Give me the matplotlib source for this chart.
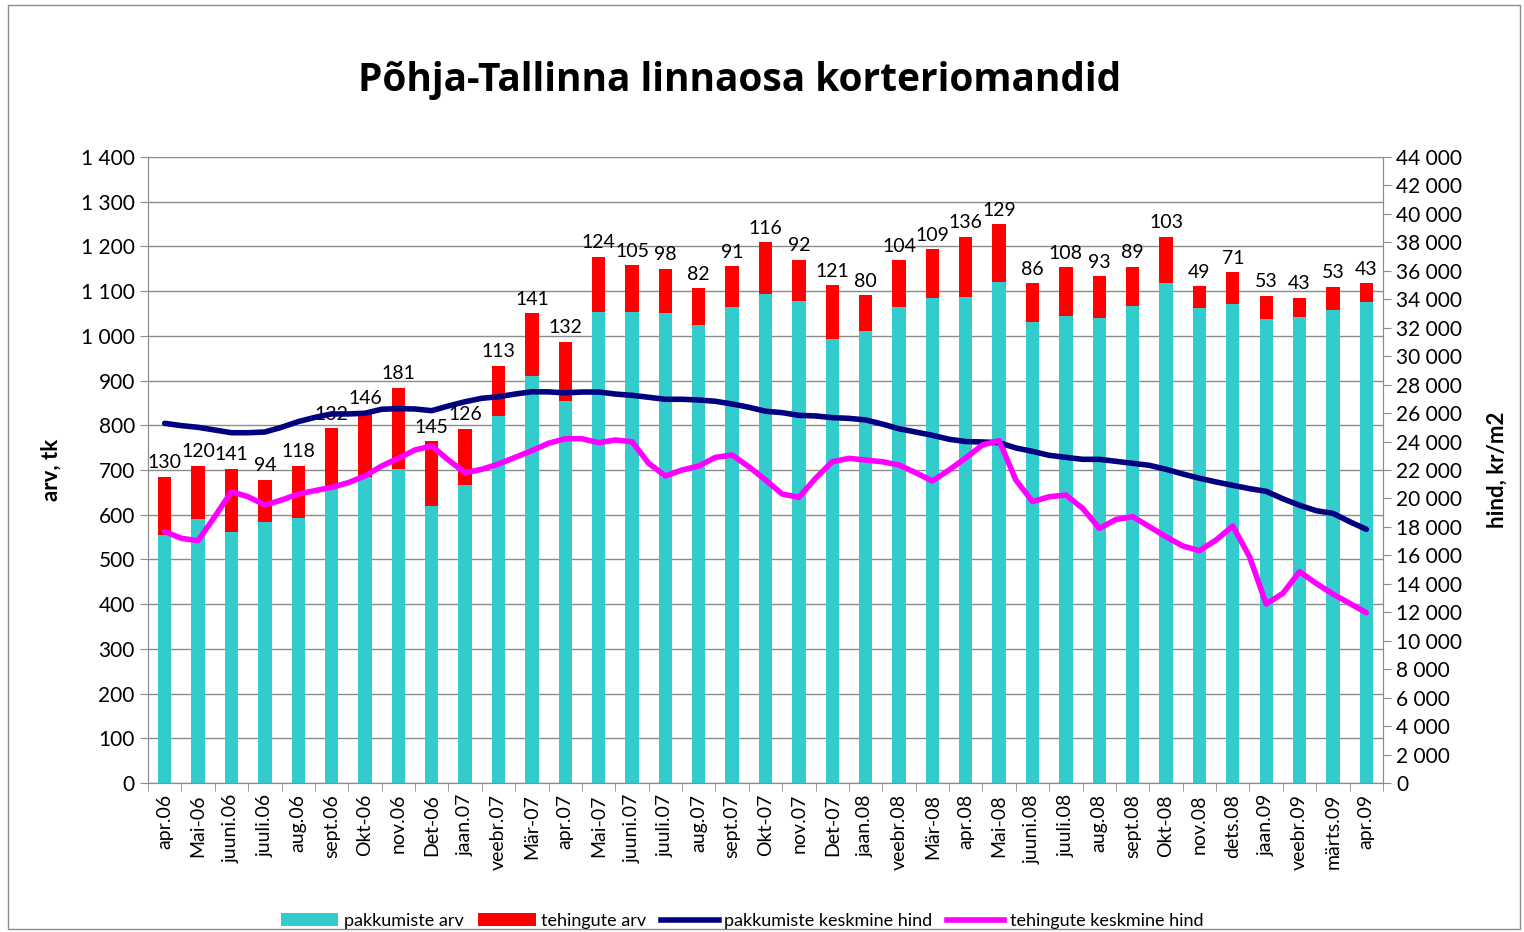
import matplotlib
matplotlib.use("Agg")
import matplotlib.pyplot as plt
import numpy as np
from matplotlib.patches import Patch, Rectangle
from matplotlib.lines import Line2D
from matplotlib.ticker import FuncFormatter

plt.rcParams['font.family'] = ['Lato', 'DejaVu Sans']

# ---------------------------------------------------------
# DATA
# ---------------------------------------------------------
months = ['apr.06', 'Mai-06', 'juuni.06', 'juuli.06', 'aug.06', 'sept.06', 'Okt-06',
          'nov.06', 'Det-06', 'jaan.07', 'veebr.07', 'Mär-07', 'apr.07', 'Mai-07',
          'juuni.07', 'juuli.07', 'aug.07', 'sept.07', 'Okt-07', 'nov.07', 'Det-07',
          'jaan.08', 'veebr.08', 'Mär-08', 'apr.08', 'Mai-08', 'juuni.08', 'juuli.08',
          'aug.08', 'sept.08', 'Okt-08', 'nov.08', 'dets.08', 'jaan.09', 'veebr.09',
          'märts.09', 'apr.09']

pakkumiste_arv = [555, 590, 562, 584, 592, 662, 684, 703, 619, 666, 820, 910, 855,
                  1053, 1053, 1052, 1024, 1065, 1094, 1078, 993, 1011, 1065, 1085,
                  1086, 1121, 1032, 1045, 1040, 1066, 1119, 1062, 1072, 1037, 1042,
                  1057, 1075]
tehingute_arv = [130, 120, 141, 94, 118, 132, 146, 181, 145, 126, 113, 141, 132,
                 124, 105, 98, 82, 91, 116, 92, 121, 80, 104, 109, 136, 129, 86,
                 108, 93, 89, 103, 49, 71, 53, 43, 53, 43]

# average prices, read twice per month (month index 0, 0.5, 1, ...)
pakkumiste_hind = [25280, 25120, 25000, 24810, 24620, 24620, 24670, 25000, 25400,
                   25700, 25940, 25940, 25990, 26270, 26310, 26290, 26170, 26500,
                   26800, 27040, 27150, 27340, 27500, 27490, 27420, 27480, 27480,
                   27340, 27250, 27110, 26970, 26970, 26920, 26830, 26640, 26410,
                   26130, 26030, 25840, 25800, 25680, 25630, 25520, 25230, 24900,
                   24670, 24440, 24160, 24000, 23970, 23920, 23550, 23310, 23030,
                   22890, 22750, 22750, 22610, 22470, 22330, 22050, 21720, 21420,
                   21160, 20920, 20690, 20500, 19980, 19520, 19140, 18950, 18370,
                   17830]
tehingute_hind = [17670, 17200, 17030, 18720, 20480, 20120, 19540, 19890, 20310,
                  20550, 20780, 21110, 21580, 22280, 22820, 23410, 23690, 22700,
                  21810, 22050, 22420, 22890, 23360, 23880, 24200, 24200, 23920,
                  24110, 23990, 22470, 21580, 22000, 22280, 22890, 23050, 22230,
                  21300, 20310, 20080, 21420, 22580, 22820, 22700, 22580, 22350,
                  21810, 21230, 22000, 22850, 23760, 24060, 21300, 19780, 20120,
                  20240, 19310, 17900, 18520, 18720, 18020, 17310, 16660, 16330,
                  17080, 18060, 15910, 12580, 13330, 14850, 14030, 13280, 12630,
                  11970]

CYAN = '#33CCCC'
RED = '#FF0000'
NAVY = '#000080'
MAGENTA = '#FF00FF'
GRID = '#8C8C8C'

x = np.arange(len(months))
xp = np.arange(len(pakkumiste_hind)) / 2.0
totals = np.array(pakkumiste_arv) + np.array(tehingute_arv)


def thousands(v, pos):
    return f'{int(v):,}'.replace(',', ' ')


fig = plt.figure(figsize=(15.24, 9.32), dpi=100)
ax = fig.add_axes([148 / 1524, 1 - 783 / 932, (1383 - 148) / 1524, (783 - 157) / 932])

# outer chart border
fig.patches.append(Rectangle((8 / 1524, 3 / 932), 1512 / 1524, 924 / 932,
                             transform=fig.transFigure, fill=False,
                             edgecolor='#8C8C8C', linewidth=1))

ax.bar(x, pakkumiste_arv, width=0.4, color=CYAN, zorder=2)
ax.bar(x, tehingute_arv, width=0.4, bottom=pakkumiste_arv, color=RED, zorder=2)

for xi, tot, lab in zip(x, totals, tehingute_arv):
    ax.text(xi, tot + 12, str(lab), ha='center', va='bottom', fontsize=14, zorder=5)

ax.set_xlim(-0.5, len(months) - 0.5)
ax.set_ylim(0, 1400)
ax.set_yticks(np.arange(0, 1401, 100))
ax.yaxis.set_major_formatter(FuncFormatter(thousands))
ax.grid(axis='y', color=GRID, linewidth=1)
ax.set_axisbelow(True)

ax.set_xticks(x)
ax.set_xticklabels(months, rotation=90, fontsize=14)
ax.set_xticks(np.arange(-0.5, len(months), 1), minor=True)
ax.tick_params(axis='x', which='major', length=0, pad=8)
ax.tick_params(axis='x', which='minor', length=6, color=GRID)
ax.tick_params(axis='y', labelsize=15, length=6, color=GRID)

ax.spines['top'].set_visible(False)
for side in ['left', 'bottom', 'right']:
    ax.spines[side].set_color(GRID)

ax.set_ylabel('arv, tk', fontsize=16, fontweight='bold', labelpad=14)

ax2 = ax.twinx()
ax2.plot(xp, pakkumiste_hind, color=NAVY, linewidth=4, solid_capstyle='round', zorder=3)
ax2.plot(xp, tehingute_hind, color=MAGENTA, linewidth=4, solid_capstyle='round', zorder=3)
ax2.set_ylim(0, 44000)
ax2.set_yticks(np.arange(0, 44001, 2000))
ax2.yaxis.set_major_formatter(FuncFormatter(thousands))
ax2.tick_params(axis='y', labelsize=15, length=6, color=GRID)
ax2.spines['top'].set_visible(False)
for side in ['left', 'bottom', 'right']:
    ax2.spines[side].set_color(GRID)
ax2.set_ylabel('hind, kr/m2', fontsize=16, fontweight='bold', labelpad=18)

fig.text(740 / 1524, 1 - 81 / 932, 'Põhja-Tallinna linnaosa korteriomandid',
         ha='center', va='center', fontsize=28, fontweight='bold',
         family=['Open Sans', 'DejaVu Sans'])

handles = [Patch(facecolor=CYAN), Patch(facecolor=RED),
           Line2D([], [], color=NAVY, linewidth=4),
           Line2D([], [], color=MAGENTA, linewidth=4)]
labels = ['pakkumiste arv', 'tehingute arv', 'pakkumiste keskmine hind',
          'tehingute keskmine hind']
fig.legend(handles, labels, loc='center', bbox_to_anchor=(742 / 1524, 1 - 921 / 932),
           ncol=4, frameon=False, fontsize=13, handlelength=3.2, handletextpad=0.3,
           columnspacing=0.8)

fig.savefig('out.png', dpi=100)
